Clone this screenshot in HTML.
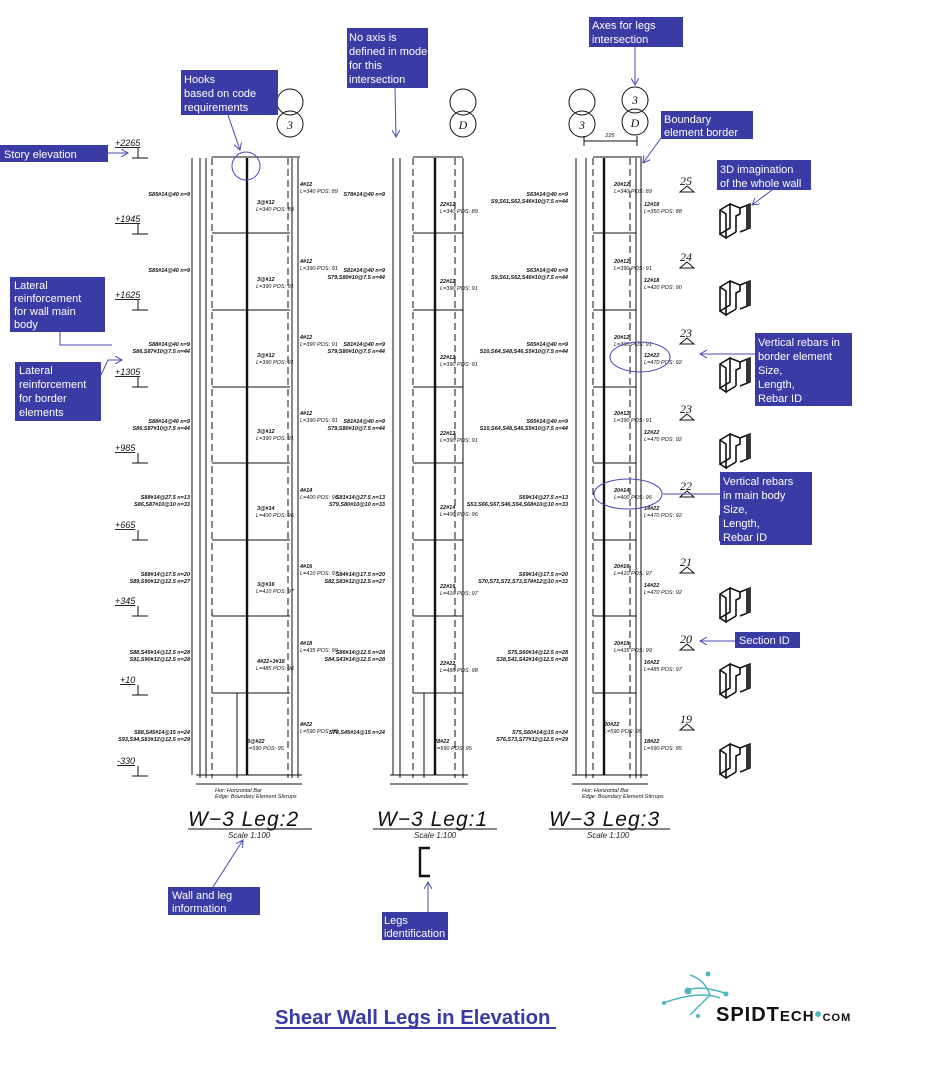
<!DOCTYPE html>
<html><head><meta charset="utf-8"><style>
html,body{margin:0;padding:0;background:#fff;}
svg{display:block;font-family:"Liberation Sans",sans-serif;}
.box{fill:#3b3ba6;}
.bt{fill:#fff;font-size:11px;}
.t{font-size:5.5px;font-style:italic;fill:#111;}
.tb{font-size:5.5px;font-style:italic;font-weight:bold;fill:#111;}
.el{font-size:9px;font-style:italic;fill:#111;text-decoration:underline;}
.sec{font-size:12px;font-style:italic;font-family:"Liberation Serif",serif;fill:#111;}
.ttl{font-size:21px;font-style:italic;fill:#111;letter-spacing:1px;}
.sc{font-size:8px;font-style:italic;fill:#222;}
.ln{stroke:#111;stroke-width:1;fill:none;}
.dl{stroke:#111;stroke-width:1;stroke-dasharray:7,4;fill:none;}
.th{stroke:#111;stroke-width:2.4;fill:none;}
.bl{stroke:#4a4ab0;stroke-width:1;fill:none;}
</style></head><body>
<svg width="937" height="1080" viewBox="0 0 937 1080" xmlns="http://www.w3.org/2000/svg">
<defs>
<marker id="ar" markerWidth="8" markerHeight="8" refX="7" refY="4" orient="auto"><path d="M0,0 L7,4 L0,8" fill="none" stroke="#4a4ab0"/></marker>
<g id="icon"><path d="M4,6 L14,0 L14,24 L4,30 Z M14,0 L24,4 L24,10 L20,12 L20,28 M4,6 L10,10 L10,34 L4,30 M10,34 L20,28 M24,4 L34,0 L34,24 L24,28" fill="#fff" stroke="#111" stroke-width="1.6"/><path d="M30,2 L34,0 L34,24 L30,26 Z" fill="#333"/></g>
</defs>

<g>
<text x="115" y="146" class="el">+2265</text><path d="M138,148 v10 M132,158 h16" class="ln"/>
<text x="115" y="222" class="el">+1945</text><path d="M138,224 v10 M132,234 h16" class="ln"/>
<text x="115" y="298" class="el">+1625</text><path d="M138,300 v10 M132,310 h16" class="ln"/>
<text x="115" y="375" class="el">+1305</text><path d="M138,377 v10 M132,387 h16" class="ln"/>
<text x="115" y="451" class="el">+985</text><path d="M138,453 v10 M132,463 h16" class="ln"/>
<text x="115" y="528" class="el">+665</text><path d="M138,530 v10 M132,540 h16" class="ln"/>
<text x="115" y="604" class="el">+345</text><path d="M138,606 v10 M132,616 h16" class="ln"/>
<text x="120" y="683" class="el">+10</text><path d="M138,685 v10 M132,695 h16" class="ln"/>
<text x="117" y="764" class="el">-330</text><path d="M138,766 v10 M132,776 h16" class="ln"/>
</g>

<g>
<path d="M192,158 V775" class="ln" stroke="#777"/>
<path d="M200,158 V778 M206,158 V778" class="ln"/>
<path d="M212,158 V778 M288,158 V778" class="dl"/>
<path d="M247,158 V775" class="th"/>
<path d="M212,157 H300 M212,233 H290 M212,310 H290 M212,387 H290 M212,463 H290 M212,540 H290 M212,616 H290 M212,693 H290" class="ln"/>
<path d="M292,158 V778 M298,158 V778" class="ln"/>
<path d="M237,693 V778 M240,157 H250" class="ln"/>
<path d="M196,775 H302 M196,784 H302" class="ln" stroke="#888"/>
<circle cx="246" cy="166" r="14" class="bl"/>
<circle cx="290" cy="102" r="13" class="ln"/><circle cx="290" cy="124" r="13" class="ln"/>
<text x="290" y="129" text-anchor="middle" class="sec">3</text>
<text x="215" y="792" class="t">Hor: Horizontal Bar</text><text x="215" y="798" class="t">Edge: Boundary Element Stirrups</text>
<text x="188" y="826" class="ttl">W−3 Leg:2</text><path d="M188,829 H312" class="ln"/>
<text x="228" y="838" class="sc">Scale 1:100</text>
</g>
<g>
<text x="190" y="196" text-anchor="end" class="tb">S85#14@40 n=9</text>
<text x="190" y="272" text-anchor="end" class="tb">S85#14@40 n=9</text>
<text x="190" y="346" text-anchor="end" class="tb">S88#14@40 n=9</text><text x="190" y="353" text-anchor="end" class="tb">S86,S87#10@7.5 n=44</text>
<text x="190" y="423" text-anchor="end" class="tb">S88#14@40 n=9</text><text x="190" y="430" text-anchor="end" class="tb">S86,S87#10@7.5 n=44</text>
<text x="190" y="499" text-anchor="end" class="tb">S88#14@27.5 n=13</text><text x="190" y="506" text-anchor="end" class="tb">S86,S87#10@10 n=33</text>
<text x="190" y="576" text-anchor="end" class="tb">S88#14@17.5 n=20</text><text x="190" y="583" text-anchor="end" class="tb">S89,S90#12@12.5 n=27</text>
<text x="190" y="654" text-anchor="end" class="tb">S88,S45#14@12.5 n=28</text><text x="190" y="661" text-anchor="end" class="tb">S91,S90#12@12.5 n=28</text>
<text x="190" y="734" text-anchor="end" class="tb">S88,S45#14@15 n=24</text><text x="190" y="741" text-anchor="end" class="tb">S93,S94,S83#12@12.5 n=29</text>
<text x="257" y="204" class="tb">3@#12</text><text x="256" y="211" class="t">L=340 POS: 89</text>
<text x="257" y="281" class="tb">3@#12</text><text x="256" y="288" class="t">L=390 POS: 91</text>
<text x="257" y="357" class="tb">3@#12</text><text x="256" y="364" class="t">L=390 POS: 91</text>
<text x="257" y="433" class="tb">3@#12</text><text x="256" y="440" class="t">L=390 POS: 91</text>
<text x="257" y="510" class="tb">3@#14</text><text x="256" y="517" class="t">L=400 POS: 96</text>
<text x="257" y="586" class="tb">3@#16</text><text x="256" y="593" class="t">L=410 POS: 97</text>
<text x="257" y="663" class="tb">4#22+3#18</text><text x="256" y="670" class="t">L=485 POS: 98</text>
<text x="247" y="743" class="tb">3@#22</text><text x="246" y="750" class="t">L=590 POS: 95</text>
<text x="300" y="186" class="tb">4#12</text><text x="300" y="193" class="t">L=340 POS: 89</text>
<text x="300" y="263" class="tb">4#12</text><text x="300" y="270" class="t">L=390 POS: 91</text>
<text x="300" y="339" class="tb">4#12</text><text x="300" y="346" class="t">L=390 POS: 91</text>
<text x="300" y="415" class="tb">4#12</text><text x="300" y="422" class="t">L=390 POS: 91</text>
<text x="300" y="492" class="tb">4#14</text><text x="300" y="499" class="t">L=400 POS: 96</text>
<text x="300" y="568" class="tb">4#16</text><text x="300" y="575" class="t">L=410 POS: 97</text>
<text x="300" y="645" class="tb">4#18</text><text x="300" y="652" class="t">L=435 POS: 99</text>
<text x="300" y="726" class="tb">4#22</text><text x="300" y="733" class="t">L=590 POS: 95</text>
</g>

<g>
<path d="M393,158 V775" class="ln" stroke="#777"/>
<path d="M400,158 V778" class="ln"/>
<path d="M413,158 V778 M455,158 V778" class="dl"/>
<path d="M435,158 V775" class="th"/>
<path d="M413,157 H463 M413,233 H463 M413,310 H463 M413,387 H463 M413,463 H463 M413,540 H463 M413,616 H463 M413,693 H463" class="ln"/>
<path d="M463,158 V778 M424,693 V778" class="ln"/>
<path d="M390,775 H468 M390,784 H468" class="ln" stroke="#888"/>
<circle cx="463" cy="102" r="13" class="ln"/><circle cx="463" cy="124" r="13" class="ln"/>
<text x="463" y="129" text-anchor="middle" class="sec">D</text>
<text x="377" y="826" class="ttl">W−3 Leg:1</text><path d="M373,829 H497" class="ln"/>
<text x="414" y="838" class="sc">Scale 1:100</text>
<path d="M430,848 H420 V876 H430" class="th"/>
<text x="385" y="196" text-anchor="end" class="tb">S78#14@40 n=9</text>
<text x="385" y="272" text-anchor="end" class="tb">S81#14@40 n=9</text><text x="385" y="279" text-anchor="end" class="tb">S79,S80#10@7.5 n=44</text>
<text x="385" y="346" text-anchor="end" class="tb">S81#14@40 n=9</text><text x="385" y="353" text-anchor="end" class="tb">S79,S80#10@7.5 n=44</text>
<text x="385" y="423" text-anchor="end" class="tb">S81#14@40 n=9</text><text x="385" y="430" text-anchor="end" class="tb">S79,S80#10@7.5 n=44</text>
<text x="385" y="499" text-anchor="end" class="tb">S81#14@27.5 n=13</text><text x="385" y="506" text-anchor="end" class="tb">S79,S80#10@10 n=33</text>
<text x="385" y="576" text-anchor="end" class="tb">S84#14@17.5 n=20</text><text x="385" y="583" text-anchor="end" class="tb">S82,S83#12@12.5 n=27</text>
<text x="385" y="654" text-anchor="end" class="tb">S86#14@12.5 n=28</text><text x="385" y="661" text-anchor="end" class="tb">S84,S43#14@12.5 n=28</text>
<text x="385" y="734" text-anchor="end" class="tb">S78,S45#14@15 n=24</text>
<text x="440" y="206" class="tb">22#12</text><text x="440" y="213" class="t">L=340 POS: 89</text>
<text x="440" y="283" class="tb">22#12</text><text x="440" y="290" class="t">L=390 POS: 91</text>
<text x="440" y="359" class="tb">22#12</text><text x="440" y="366" class="t">L=390 POS: 91</text>
<text x="440" y="435" class="tb">22#12</text><text x="440" y="442" class="t">L=390 POS: 91</text>
<text x="440" y="509" class="tb">22#14</text><text x="440" y="516" class="t">L=400 POS: 96</text>
<text x="440" y="588" class="tb">22#16</text><text x="440" y="595" class="t">L=410 POS: 97</text>
<text x="440" y="665" class="tb">22#22</text><text x="440" y="672" class="t">L=485 POS: 98</text>
<text x="434" y="743" class="tb">28#22</text><text x="434" y="750" class="t">L=590 POS: 95</text>
</g>

<g>
<path d="M576,158 V775" class="ln" stroke="#777"/>
<path d="M586,158 V778" class="ln"/>
<path d="M593,158 V778 M630,158 V778" class="dl"/>
<path d="M604,158 V775" class="th"/>
<path d="M593,157 H642 M593,233 H636 M593,310 H636 M593,387 H636 M593,463 H636 M593,540 H636 M593,616 H636 M593,693 H636" class="ln"/>
<path d="M636,158 V778 M641,158 V778" class="ln"/>
<path d="M584,141 H637 M584,136 V146 M637,136 V146" class="ln"/>
<text x="610" y="137" text-anchor="middle" class="t" font-size="8">225</text>
<path d="M572,775 H648 M572,784 H648" class="ln" stroke="#888"/>
<circle cx="582" cy="102" r="13" class="ln"/><circle cx="582" cy="124" r="13" class="ln"/>
<text x="582" y="129" text-anchor="middle" class="sec">3</text>
<circle cx="635" cy="100" r="13" class="ln"/><circle cx="635" cy="122" r="13" class="ln"/>
<text x="635" y="104" text-anchor="middle" class="sec">3</text>
<text x="635" y="127" text-anchor="middle" class="sec">D</text>
<text x="582" y="792" class="t">Hor: Horizontal Bar</text><text x="582" y="798" class="t">Edge: Boundary Element Stirrups</text>
<text x="549" y="826" class="ttl">W−3 Leg:3</text><path d="M549,829 H670" class="ln"/>
<text x="587" y="838" class="sc">Scale 1:100</text>
<text x="568" y="196" text-anchor="end" class="tb">S63#14@40 n=9</text><text x="568" y="203" text-anchor="end" class="tb">S9,S61,S62,S46#10@7.5 n=44</text>
<text x="568" y="272" text-anchor="end" class="tb">S63#14@40 n=9</text><text x="568" y="279" text-anchor="end" class="tb">S9,S61,S62,S46#10@7.5 n=44</text>
<text x="568" y="346" text-anchor="end" class="tb">S65#14@40 n=9</text><text x="568" y="353" text-anchor="end" class="tb">S10,S64,S48,S46,S5#10@7.5 n=44</text>
<text x="568" y="423" text-anchor="end" class="tb">S65#14@40 n=9</text><text x="568" y="430" text-anchor="end" class="tb">S10,S64,S48,S46,S5#10@7.5 n=44</text>
<text x="568" y="499" text-anchor="end" class="tb">S69#14@27.5 n=13</text><text x="568" y="506" text-anchor="end" class="tb">S53,S66,S67,S46,S54,S68#10@10 n=33</text>
<text x="568" y="576" text-anchor="end" class="tb">S69#14@17.5 n=20</text><text x="568" y="583" text-anchor="end" class="tb">S70,S71,S72,S73,S74#12@10 n=33</text>
<text x="568" y="654" text-anchor="end" class="tb">S75,S60#14@12.5 n=28</text><text x="568" y="661" text-anchor="end" class="tb">S38,S41,S42#14@12.5 n=28</text>
<text x="568" y="734" text-anchor="end" class="tb">S75,S60#14@15 n=24</text><text x="568" y="741" text-anchor="end" class="tb">S76,S73,S77#12@12.5 n=29</text>
<text x="614" y="186" class="tb">20#12</text><text x="614" y="193" class="t">L=340 POS: 89</text>
<text x="644" y="206" class="tb">12#18</text><text x="644" y="213" class="t">L=350 POS: 88</text>
<text x="614" y="263" class="tb">20#12</text><text x="614" y="270" class="t">L=390 POS: 91</text>
<text x="644" y="282" class="tb">12#18</text><text x="644" y="289" class="t">L=420 POS: 90</text>
<text x="614" y="339" class="tb">20#12</text><text x="614" y="346" class="t">L=390 POS: 91</text>
<text x="644" y="357" class="tb">12#22</text><text x="644" y="364" class="t">L=470 POS: 92</text>
<text x="614" y="415" class="tb">20#12</text><text x="614" y="422" class="t">L=390 POS: 91</text>
<text x="644" y="434" class="tb">12#22</text><text x="644" y="441" class="t">L=470 POS: 92</text>
<text x="614" y="492" class="tb">20#14</text><text x="614" y="499" class="t">L=400 POS: 96</text>
<text x="644" y="510" class="tb">14#22</text><text x="644" y="517" class="t">L=470 POS: 92</text>
<text x="614" y="568" class="tb">20#16</text><text x="614" y="575" class="t">L=410 POS: 97</text>
<text x="644" y="587" class="tb">14#22</text><text x="644" y="594" class="t">L=470 POS: 92</text>
<text x="614" y="645" class="tb">20#18</text><text x="614" y="652" class="t">L=435 POS: 99</text>
<text x="644" y="664" class="tb">16#22</text><text x="644" y="671" class="t">L=485 POS: 97</text>
<text x="604" y="726" class="tb">20#22</text><text x="604" y="733" class="t">L=590 POS: 95</text>
<text x="644" y="743" class="tb">18#22</text><text x="644" y="750" class="t">L=590 POS: 95</text>
<ellipse cx="640" cy="357" rx="30" ry="15" class="bl"/>
<ellipse cx="628" cy="494" rx="34" ry="15" class="bl"/>
</g>

<g>
<text x="680" y="185" class="sec">25</text><path d="M680,192 h14 l-7,-6 z" class="ln" stroke="#999"/>
<text x="680" y="261" class="sec">24</text><path d="M680,268 h14 l-7,-6 z" class="ln" stroke="#999"/>
<text x="680" y="337" class="sec">23</text><path d="M680,344 h14 l-7,-6 z" class="ln" stroke="#999"/>
<text x="680" y="413" class="sec">23</text><path d="M680,420 h14 l-7,-6 z" class="ln" stroke="#999"/>
<text x="680" y="490" class="sec">22</text><path d="M680,497 h14 l-7,-6 z" class="ln" stroke="#999"/>
<text x="680" y="566" class="sec">21</text><path d="M680,573 h14 l-7,-6 z" class="ln" stroke="#999"/>
<text x="680" y="643" class="sec">20</text><path d="M680,650 h14 l-7,-6 z" class="ln" stroke="#999"/>
<text x="680" y="723" class="sec">19</text><path d="M680,730 h14 l-7,-6 z" class="ln" stroke="#999"/>
<use href="#icon" x="716" y="204"/>
<use href="#icon" x="716" y="281"/>
<use href="#icon" x="716" y="358"/>
<use href="#icon" x="716" y="434"/>
<use href="#icon" x="716" y="510"/>
<use href="#icon" x="716" y="588"/>
<use href="#icon" x="716" y="664"/>
<use href="#icon" x="716" y="744"/>
</g>

<g>
<rect x="0" y="145" width="108" height="17" class="box"/><text x="4" y="158" class="bt">Story elevation</text>
<path d="M108,153 H128" class="bl" marker-end="url(#ar)"/>
<rect x="181" y="70" width="97" height="45" class="box"/><text x="184" y="83" class="bt">Hooks</text><text x="184" y="97" class="bt">based on code</text><text x="184" y="111" class="bt">requirements</text>
<path d="M228,115 L240,150" class="bl" marker-end="url(#ar)"/>
<rect x="347" y="28" width="81" height="60" class="box"/><text x="349" y="41" class="bt">No axis is</text><text x="349" y="55" class="bt">defined in model</text><text x="349" y="69" class="bt">for this</text><text x="349" y="83" class="bt">intersection</text>
<path d="M395,88 L396,137" class="bl" marker-end="url(#ar)"/>
<rect x="589" y="17" width="94" height="30" class="box"/><text x="592" y="29" class="bt">Axes for legs</text><text x="592" y="43" class="bt">intersection</text>
<path d="M635,47 V85" class="bl" marker-end="url(#ar)"/>
<rect x="661" y="111" width="92" height="28" class="box"/><text x="664" y="123" class="bt">Boundary</text><text x="664" y="136" class="bt">element border</text>
<path d="M661,138 L643,163" class="bl" marker-end="url(#ar)"/>
<rect x="717" y="160" width="94" height="30" class="box"/><text x="720" y="173" class="bt">3D imagination</text><text x="720" y="187" class="bt">of the whole wall</text>
<path d="M772,190 L752,205" class="bl" marker-end="url(#ar)"/>
<rect x="10" y="277" width="95" height="55" class="box"/><text x="14" y="289" class="bt">Lateral</text><text x="14" y="302" class="bt">reinforcement</text><text x="14" y="315" class="bt">for wall main</text><text x="14" y="328" class="bt">body</text>
<path d="M60,332 V345 H112" class="bl"/>
<path d="M101,375 L108,360 H122" class="bl" marker-end="url(#ar)"/>
<rect x="15" y="362" width="86" height="59" class="box"/><text x="19" y="374" class="bt">Lateral</text><text x="19" y="388" class="bt">reinforcement</text><text x="19" y="402" class="bt">for border</text><text x="19" y="416" class="bt">elements</text>
<rect x="755" y="333" width="97" height="73" class="box"/><text x="758" y="346" class="bt">Vertical rebars in</text><text x="758" y="360" class="bt">border element</text><text x="758" y="374" class="bt">Size,</text><text x="758" y="388" class="bt">Length,</text><text x="758" y="402" class="bt">Rebar ID</text>
<path d="M755,354 H700" class="bl" marker-end="url(#ar)"/>
<rect x="720" y="472" width="92" height="73" class="box"/><text x="723" y="485" class="bt">Vertical rebars</text><text x="723" y="499" class="bt">in main body</text><text x="723" y="513" class="bt">Size,</text><text x="723" y="527" class="bt">Length,</text><text x="723" y="541" class="bt">Rebar ID</text>
<path d="M720,494 H663" class="bl"/>
<rect x="735" y="632" width="65" height="16" class="box"/><text x="739" y="644" class="bt">Section ID</text>
<path d="M735,641 H700" class="bl" marker-end="url(#ar)"/>
<rect x="168" y="887" width="92" height="28" class="box"/><text x="172" y="899" class="bt">Wall and leg</text><text x="172" y="912" class="bt">information</text>
<path d="M213,887 L243,840" class="bl" marker-end="url(#ar)"/>
<rect x="382" y="912" width="66" height="28" class="box"/><text x="384" y="924" class="bt">Legs</text><text x="384" y="937" class="bt">identification</text>
<path d="M428,912 V882" class="bl" marker-end="url(#ar)"/>
</g>

<text x="275" y="1024" font-size="20.3" font-weight="bold" fill="#3b3ba6">Shear Wall Legs in Elevation</text>
<path d="M275,1028 H556" stroke="#3b3ba6" stroke-width="2"/>

<g stroke="#4fb6bd" stroke-width="1.5" fill="none">
<path d="M663,1003 Q700,990 720,998 M690,975 Q705,980 710,995 Q700,1005 690,1015 M688,990 Q700,985 725,993"/>
</g>
<g fill="#4fb6bd"><circle cx="688" cy="991" r="3.5"/><circle cx="708" cy="974" r="2.5"/><circle cx="726" cy="994" r="2.5"/><circle cx="664" cy="1003" r="2"/><circle cx="698" cy="1016" r="2"/></g>
<text x="716" y="1021" font-size="20" font-weight="bold" fill="#111" letter-spacing="1">SPIDT<tspan font-size="15">ECH</tspan><tspan fill="#4fb6bd">•</tspan><tspan font-size="11">COM</tspan></text>
</svg>
</body></html>
